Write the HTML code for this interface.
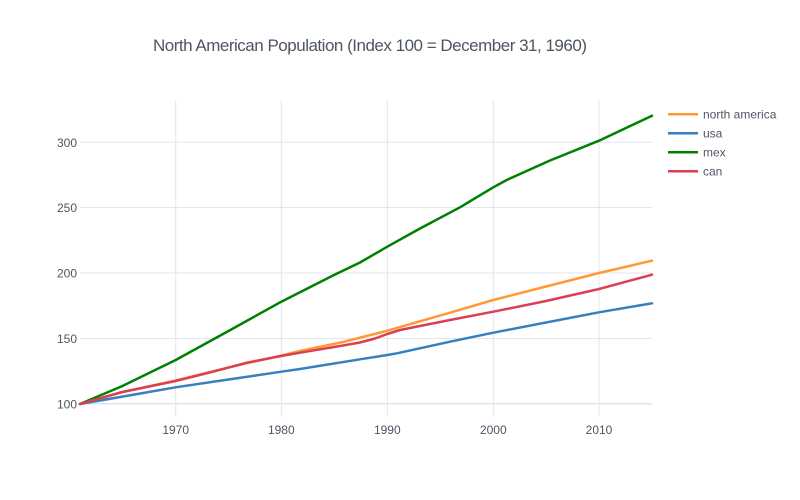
<!DOCTYPE html>
<html>
<head>
<meta charset="utf-8">
<style>
  html,body{margin:0;padding:0;background:#ffffff;}
  svg{display:block;}
  text{font-family:"Liberation Sans", "DejaVu Sans", sans-serif;fill:#4D5663;}
</style>
</head>
<body>
<svg width="800" height="500" viewBox="0 0 800 500" xmlns="http://www.w3.org/2000/svg">
  <rect x="0" y="0" width="800" height="500" fill="#ffffff"/>

  <!-- title -->
  <text x="370" y="51" font-size="17" text-anchor="middle" textLength="434" lengthAdjust="spacing">North American Population (Index 100 = December 31, 1960)</text>

  <!-- grid -->
  <g stroke="#E1E5ED" stroke-width="1">
    <line x1="175.7" y1="100" x2="175.7" y2="417"/>
    <line x1="281.3" y1="100" x2="281.3" y2="417"/>
    <line x1="387.3" y1="100" x2="387.3" y2="417"/>
    <line x1="493.3" y1="100" x2="493.3" y2="417"/>
    <line x1="599" y1="100" x2="599" y2="417"/>
    <line x1="80" y1="142.3" x2="652" y2="142.3"/>
    <line x1="80" y1="207.5" x2="652" y2="207.5"/>
    <line x1="80" y1="273" x2="652" y2="273"/>
    <line x1="80" y1="338.5" x2="652" y2="338.5"/>
    <line x1="80" y1="403.8" x2="652" y2="403.8" stroke-width="1.5"/>
  </g>

  <!-- y tick labels -->
  <g font-size="12" text-anchor="end">
    <text x="77" y="147">300</text>
    <text x="77" y="212">250</text>
    <text x="77" y="277.5">200</text>
    <text x="77" y="343">150</text>
    <text x="77" y="408.5">100</text>
  </g>

  <!-- x tick labels -->
  <g font-size="12" text-anchor="middle">
    <text x="175.7" y="434">1970</text>
    <text x="281.3" y="434">1980</text>
    <text x="387.3" y="434">1990</text>
    <text x="493.3" y="434">2000</text>
    <text x="599" y="434">2010</text>
  </g>

  <!-- series -->
  <g fill="none" stroke-width="2.5" stroke-linejoin="round" stroke-linecap="round">
    <polyline stroke="#FF9933" points="80,404 122.4,392 175.7,380.5 228.5,367.5 281.3,355.5 300,351 343,342 387.3,330.7 450,312.7 493.3,300 546,286.5 599,273 652,260.7"/>
    <polyline stroke="#3780BF" points="80,404 122.4,396.6 175.7,387.3 228.5,379.5 281.3,371.7 300,369 360,359.3 387.3,355 397,353.3 450,341.7 493.3,332.7 546,322.5 599,312.3 652,303.3"/>
    <polyline stroke="#008000" points="80,404 122.4,386 175.7,360 228.5,331 281.3,301.7 334,275 360,262.5 387.3,246.7 420,228.5 460,207.3 493.3,187.3 506.7,180 550,160.5 599,140.7 652,115.7"/>
    <polyline stroke="#DB4052" points="80,404 122.4,392 175.7,381 213,371.7 246.7,362.7 281.3,356 300,352.7 343,345.5 360,342.5 375,338.5 387.3,334 400,330 450,320 493.3,311.7 546,301 599,289 652,274.7"/>
  </g>

  <!-- legend -->
  <g stroke-width="2.5">
    <line x1="668" y1="114.3" x2="698" y2="114.3" stroke="#FF9933"/>
    <line x1="668" y1="133.3" x2="698" y2="133.3" stroke="#3780BF"/>
    <line x1="668" y1="152.3" x2="698" y2="152.3" stroke="#008000"/>
    <line x1="668" y1="171.3" x2="698" y2="171.3" stroke="#DB4052"/>
  </g>
  <g font-size="12">
    <text x="703" y="118.5">north america</text>
    <text x="703" y="137.5">usa</text>
    <text x="703" y="156.5">mex</text>
    <text x="703" y="175.5">can</text>
  </g>
</svg>
</body>
</html>
